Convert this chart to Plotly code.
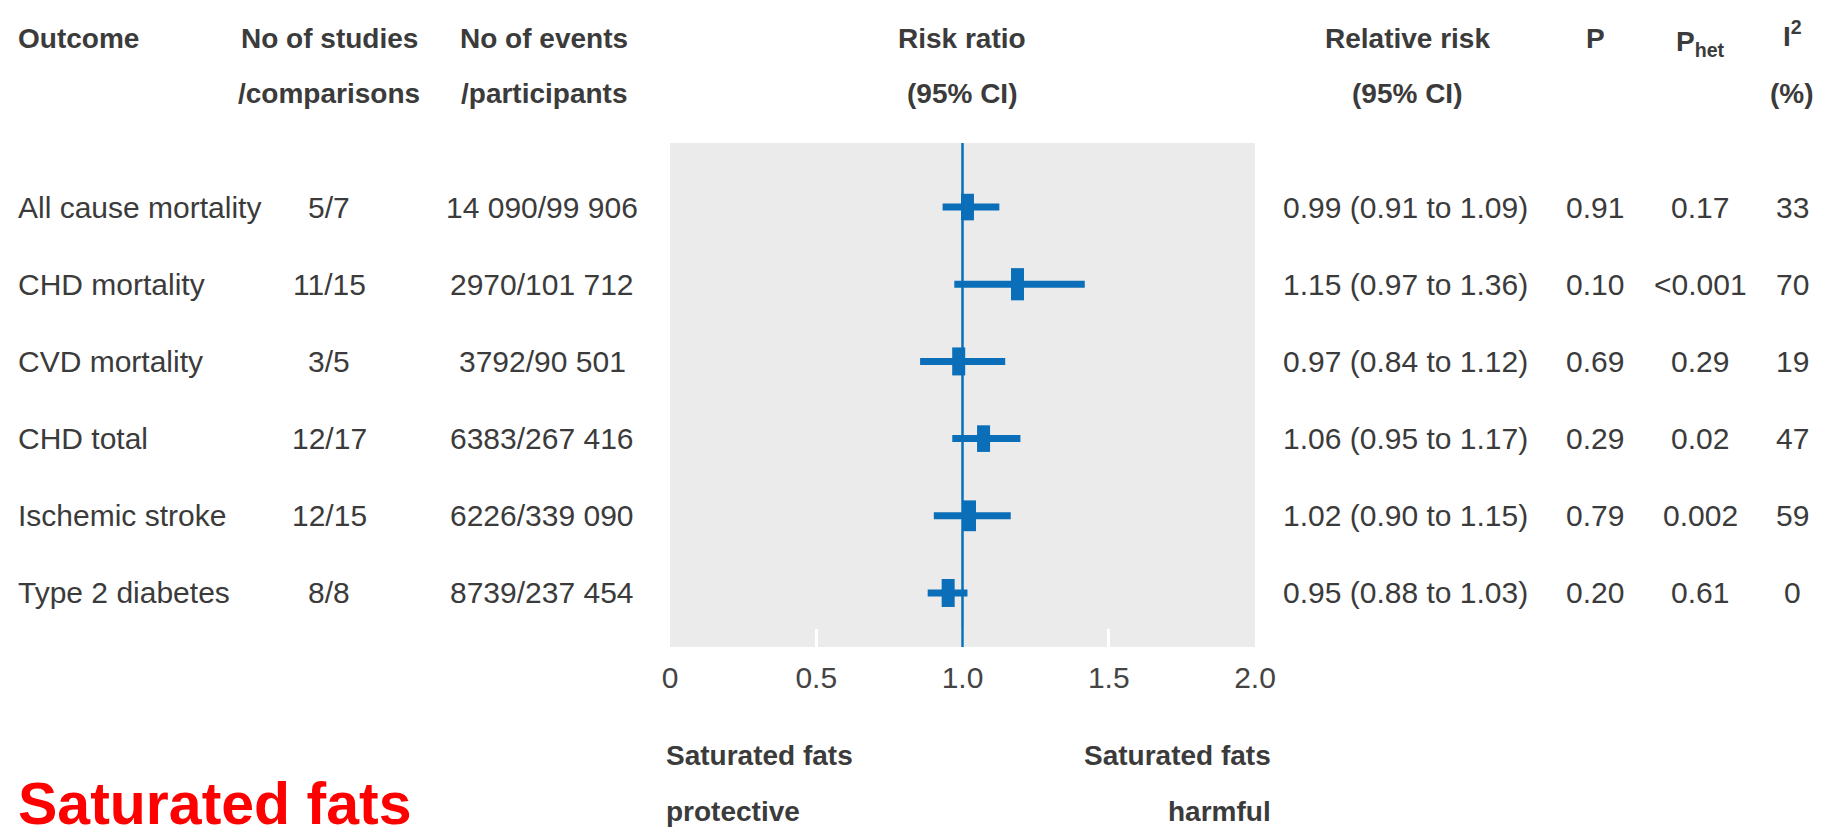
import plotly.graph_objects as go

# ---------------- data ----------------
outcomes = ["All cause mortality", "CHD mortality", "CVD mortality",
            "CHD total", "Ischemic stroke", "Type 2 diabetes"]
studies = ["5/7", "11/15", "3/5", "12/17", "12/15", "8/8"]
events = ["14 090/99 906", "2970/101 712", "3792/90 501",
          "6383/267 416", "6226/339 090", "8739/237 454"]
rr_text = ["0.99 (0.91 to 1.09)", "1.15 (0.97 to 1.36)", "0.97 (0.84 to 1.12)",
           "1.06 (0.95 to 1.17)", "1.02 (0.90 to 1.15)", "0.95 (0.88 to 1.03)"]
p_vals = ["0.91", "0.10", "0.69", "0.29", "0.79", "0.20"]
p_het = ["0.17", "&lt;0.001", "0.29", "0.02", "0.002", "0.61"]
i2 = ["33", "70", "19", "47", "59", "0"]

# marker positions as drawn in the chart
est = [1.017, 1.188, 0.987, 1.072, 1.024, 0.951]
ci_lo = [0.932, 0.972, 0.855, 0.965, 0.902, 0.881]
ci_hi = [1.126, 1.418, 1.146, 1.198, 1.165, 1.017]

tick_vals = [0, 0.5, 1.0, 1.5, 2.0]
tick_text = ["0", "0.5", "1.0", "1.5", "2.0"]
null_value = 1.0

# ---------------- style ----------------
W, H = 1827, 837
OFF = 8  # page body margin
BLUE = "#0b6eb9"
TXT = "#3b3b3b"
FONT = "Liberation Sans, Arial, sans-serif"
FS = 30
FSB = 28
box_h = [19, 23, 20, 19, 22, 20]

rows = list(range(1, len(outcomes) + 1))

fig = go.Figure()

# CI lines
xs, ys = [], []
for r, lo, hi in zip(rows, ci_lo, ci_hi):
    xs += [lo, hi, None]
    ys += [r, r, None]
fig.add_trace(go.Scatter(x=xs, y=ys, mode="lines",
                         line=dict(color=BLUE, width=7), hoverinfo="skip",
                         showlegend=False))
# point estimates (rectangular boxes)
fig.add_trace(go.Scatter(x=est, y=rows, mode="markers", showlegend=False,
                         marker=dict(symbol="line-ns", size=box_h, color=BLUE,
                                     opacity=1,
                                     line=dict(color=BLUE, width=13))))

def px(x):
    return (x - OFF) / W

def py(y):
    return 1 - (y - OFF) / H

ann = []
def add(text, x, y, xanchor="center", yref="paper", bold=False, size=FS,
        color=TXT, family=FONT, yanchor="middle"):
    ann.append(dict(text=f"<b>{text}</b>" if bold else text, x=x, y=y,
                    xref="paper", yref=yref, xanchor=xanchor, yanchor=yanchor,
                    showarrow=False,
                    font=dict(size=size, color=color, family=family)))

# headers
add("Outcome", px(16), py(38), xanchor="left", bold=True, size=FSB)
add("No of studies", px(329), py(38), bold=True, size=FSB)
add("/comparisons", px(329), py(93), bold=True, size=FSB)
add("No of events", px(544), py(38), bold=True, size=FSB)
add("/participants", px(544), py(93), bold=True, size=FSB)
add("Risk ratio", px(962), py(38), bold=True, size=FSB)
add("(95% CI)", px(962), py(93), bold=True, size=FSB)
add("Relative risk", px(1407), py(38), bold=True, size=FSB)
add("(95% CI)", px(1407), py(93), bold=True, size=FSB)
add("P", px(1595), py(38), bold=True, size=FSB)
add("P<sub>het</sub>", px(1700), py(43), bold=True, size=FSB)
add("I<sup>2</sup>", px(1792), py(34), bold=True, size=FSB)
add("(%)", px(1792), py(93), bold=True, size=FSB)

# table body
for r, o, s, e, t, p, ph, q in zip(rows, outcomes, studies, events, rr_text,
                                   p_vals, p_het, i2):
    add(o, px(16), r, xanchor="left", yref="y")
    add(s, px(329), r, yref="y")
    add(e, px(542), r, yref="y")
    add(t, px(1405), r, yref="y")
    add(p, px(1595), r, yref="y")
    add(ph, px(1700), r, yref="y")
    add(q, px(1792), r, yref="y")

# direction labels
add("Saturated fats", px(664), py(755), xanchor="left", bold=True, size=FSB)
add("protective", px(664), py(811), xanchor="left", bold=True, size=FSB)
add("Saturated fats", px(1273), py(755), xanchor="right", bold=True, size=FSB)
add("harmful", px(1273), py(811), xanchor="right", bold=True, size=FSB)

# red title
add("Saturated fats", px(16), py(804), xanchor="left",
    bold=True, size=59, color="#ff0000")

fig.update_layout(
    width=W, height=H,
    margin=dict(l=0, r=0, t=0, b=0),
    paper_bgcolor="white",
    plot_bgcolor="#ebebeb",
    annotations=ann,
    shapes=[dict(type="line", xref="x", yref="y domain", x0=null_value,
                 x1=null_value, y0=0, y1=1,
                 line=dict(color=BLUE, width=2.5), layer="above")],
    xaxis=dict(domain=[(670 - OFF) / W, (1255 - OFF) / W], range=[0, 2],
               showgrid=False, zeroline=False, showline=False,
               tickvals=tick_vals, ticktext=tick_text, ticks="inside",
               ticklen=18, tickwidth=3, tickcolor="white",
               tickfont=dict(size=FS, color="#444444", family=FONT),
               ticklabelstandoff=10, fixedrange=True, automargin=False),
    yaxis=dict(domain=[1 - (647 - OFF) / H, 1 - (143 - OFF) / H],
               range=[6.70, 0.17],
               showgrid=False, zeroline=False, showline=False,
               showticklabels=False, ticks="", fixedrange=True,
               automargin=False),
    showlegend=False,
)

fig.write_html("out.html")
